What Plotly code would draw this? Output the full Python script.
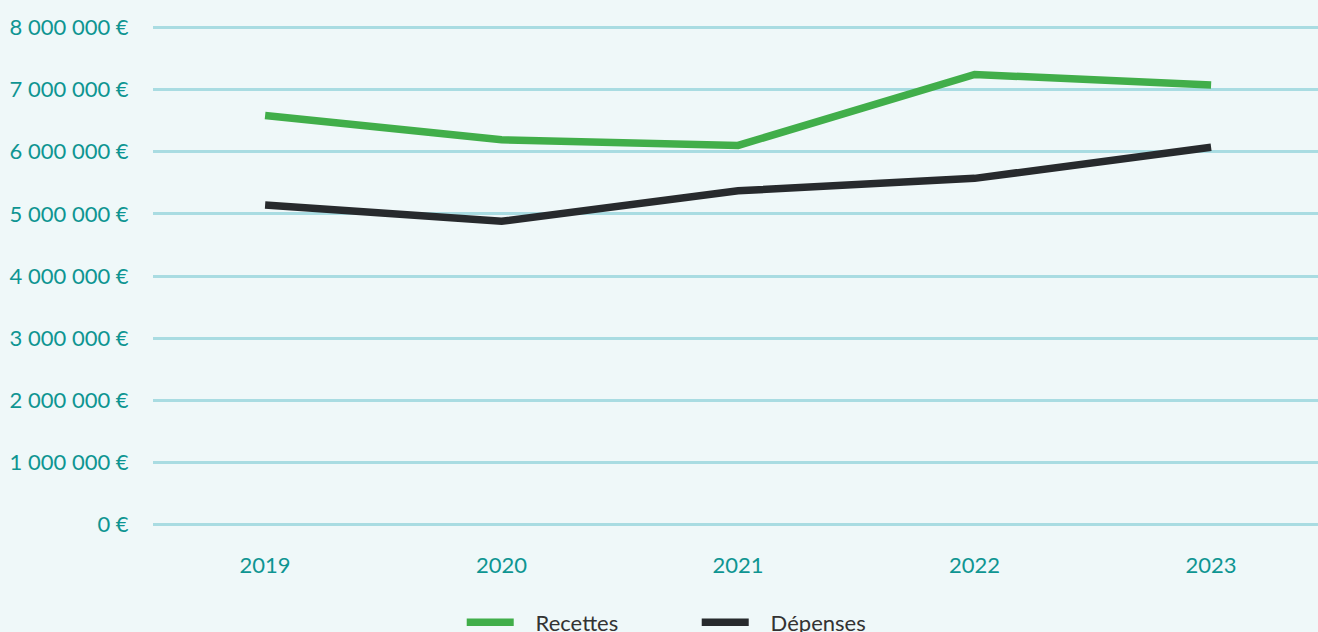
import plotly.graph_objects as go

years = ["2019", "2020", "2021", "2022", "2023"]
recettes = [6580000, 6190000, 6100000, 7240000, 7070000]
depenses = [5140000, 4880000, 5370000, 5570000, 6070000]
y_ticks = [0, 1000000, 2000000, 3000000, 4000000, 5000000, 6000000, 7000000, 8000000]
y_labels = ["0 €", "1 000 000 €", "2 000 000 €", "3 000 000 €", "4 000 000 €",
            "5 000 000 €", "6 000 000 €", "7 000 000 €", "8 000 000 €"]
series_names = ["Recettes", "Dépenses"]

GREEN = "#41ae4a"
DARK = "#272a2d"
TEAL = "#0e9592"
GRID = "#a9dce2"
BG = "#eff8f9"
PAD = "\u00a0" * 3

fig = go.Figure()
fig.add_trace(go.Scatter(x=years, y=recettes, mode="lines", name=PAD + series_names[0],
                         line=dict(color=GREEN, width=7.5)))
fig.add_trace(go.Scatter(x=years, y=depenses, mode="lines", name=PAD + series_names[1],
                         line=dict(color=DARK, width=7.5)))

fig.update_layout(
    width=1318, height=632,
    paper_bgcolor=BG, plot_bgcolor=BG,
    margin=dict(l=153, r=0, t=26, b=106, autoexpand=False),
    font=dict(family="Lato", size=22, color=TEAL),
    showlegend=True,
    hovermode=False,
    legend=dict(orientation="h", x=0.265, xanchor="left",
                y=-0.193, yanchor="middle",
                itemwidth=47, entrywidth=173, entrywidthmode="pixels",
                font=dict(family="Lato", size=22, color="#333333"),
                bgcolor="rgba(0,0,0,0)"),
)
fig.update_xaxes(type="category", range=[-0.474, 4.452], showgrid=False, zeroline=False,
                 showline=False, ticks="outside", ticklen=20, tickcolor="rgba(0,0,0,0)",
                 automargin=False,
                 tickfont=dict(family="Lato", size=22, color=TEAL))
fig.update_yaxes(range=[-20000, 8020000], tickvals=y_ticks, ticktext=y_labels,
                 showgrid=True, gridcolor=GRID, gridwidth=2.5, zeroline=False,
                 showline=False, ticks="outside", ticklen=19, tickcolor="rgba(0,0,0,0)",
                 automargin=False,
                 tickfont=dict(family="Lato", size=22, color=TEAL))

fig.write_html("out.html",
               config={"displayModeBar": False},
               post_script="document.body.style.margin='0';"
                           "document.body.style.overflow='hidden';"
                           "document.body.style.background='" + BG + "';")
